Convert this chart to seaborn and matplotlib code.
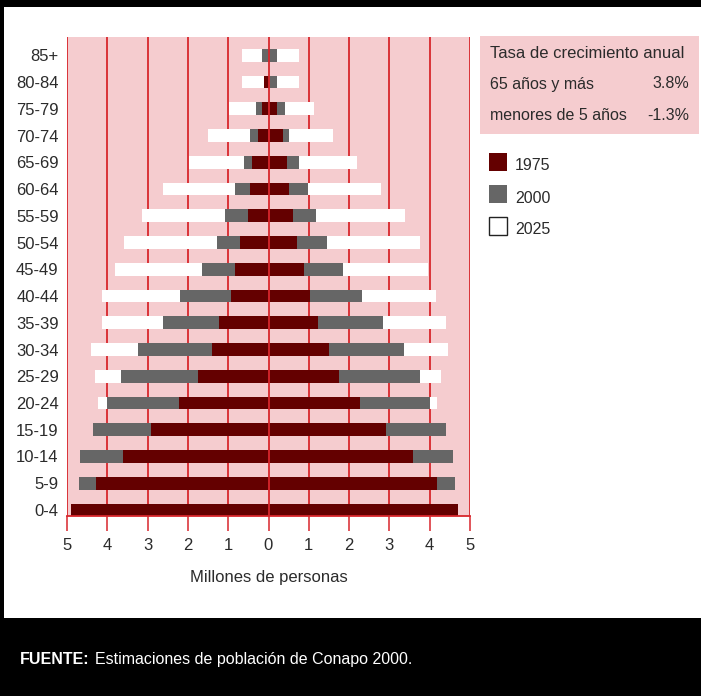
import numpy as np
import pandas as pd
import matplotlib
matplotlib.use("Agg")
import matplotlib.pyplot as plt
from matplotlib.patches import Rectangle
import seaborn as sns

# ---------------------------
# Datos (millones de personas)
# ---------------------------

grupos = ["85+", "80-84", "75-79", "70-74", "65-69", "60-64", "55-59", "50-54", "45-49",
          "40-44", "35-39", "30-34", "25-29", "20-24", "15-19", "10-14", "5-9", "0-4"]

# izquierda / derecha de la pirámide
izq_1975 = [0.0, 0.12, 0.17, 0.25, 0.42, 0.45, 0.50, 0.70, 0.82,
            0.92, 1.22, 1.39, 1.76, 2.21, 2.91, 3.60, 4.27, 4.89]
der_1975 = [0.0, 0.02, 0.22, 0.35, 0.45, 0.50, 0.60, 0.70, 0.87,
            1.04, 1.22, 1.51, 1.76, 2.28, 2.91, 3.58, 4.17, 4.69]

izq_2000 = [0.15, 0.11, 0.32, 0.45, 0.60, 0.82, 1.07, 1.29, 1.66,
            2.19, 2.63, 3.23, 3.65, 4.00, 4.35, 4.67, 4.69, 4.60]
der_2000 = [0.20, 0.22, 0.42, 0.52, 0.75, 0.97, 1.17, 1.44, 1.84,
            2.31, 2.83, 3.35, 3.77, 4.00, 4.40, 4.59, 4.62, 4.45]

izq_2025 = [0.65, 0.65, 0.99, 1.49, 1.98, 2.63, 3.15, 3.58, 3.82,
            4.12, 4.12, 4.40, 4.30, 4.22, 4.25, 4.10, 4.00, 3.80]
der_2025 = [0.75, 0.75, 1.12, 1.59, 2.19, 2.78, 3.38, 3.77, 3.97,
            4.15, 4.40, 4.45, 4.27, 4.17, 4.30, 4.10, 4.00, 3.70]

anios = ["1975", "2000", "2025"]
colores = {"1975": "#640000", "2000": "#666666", "2025": "#FFFFFF"}

tasa_titulo = "Tasa de crecimiento anual"
tasa_filas = [("65 años y más", "3.8%"), ("menores de 5 años", "-1.3%")]

# ---------------------------
# Estilo
# ---------------------------

sns.set_theme(style="white")
plt.rcParams['font.family'] = ['Liberation Sans', 'DejaVu Sans']

ROSA = "#F5CCCF"
ROJO = "#D8262C"
TEXTO = "#2B2B2B"

W, H = 701, 696
fig = plt.figure(figsize=(W / 100, H / 100), dpi=100)


def fx(x):
    return x / W


def fy(y):
    return 1 - y / H


ax = fig.add_axes([fx(67), fy(516), fx(470) - fx(67), fy(37) - fy(516)])
ax.set_facecolor(ROSA)

datos = {
    "1975": (izq_1975, der_1975),
    "2000": (izq_2000, der_2000),
    "2025": (izq_2025, der_2025),
}

# dibujar 2025 al fondo, luego 2000, luego 1975
for anio in ["2025", "2000", "1975"]:
    izq, der = datos[anio]
    df = pd.DataFrame({
        "grupo": grupos + grupos,
        "valor": [-v for v in izq] + list(der),
        "lado": ["izq"] * len(grupos) + ["der"] * len(grupos),
    })
    sns.barplot(
        data=df, x="valor", y="grupo", hue="lado", order=grupos,
        orient="h", dodge=False, width=0.475, saturation=1,
        palette={"izq": colores[anio], "der": colores[anio]},
        edgecolor="none", linewidth=0, legend=False, ax=ax, zorder=2,
    )

# líneas verticales
for v in range(-5, 6):
    ax.axvline(v, color=ROJO, lw=1.3, zorder=1 if v != 0 else 5)

ax.set_xlim(-5, 5)
ax.set_ylim(17.225, -0.685)
ax.set_xticks(range(-5, 6))
ax.set_xticklabels([str(abs(v)) for v in range(-5, 6)])
ax.set_xlabel("Millones de personas", fontsize=12, color=TEXTO, labelpad=12)
ax.set_ylabel("")

for s in ["top", "left", "right"]:
    ax.spines[s].set_visible(False)
ax.spines["bottom"].set_color(ROJO)
ax.spines["bottom"].set_linewidth(1.3)

ax.tick_params(axis="x", colors=ROJO, direction="out", length=11, width=1.1,
               labelcolor=TEXTO, labelsize=12, pad=5, bottom=True)
ax.tick_params(axis="y", length=0, labelcolor=TEXTO, labelsize=12, pad=6)

# ---------------------------
# Recuadro de tasa de crecimiento
# ---------------------------

fig.patches.append(Rectangle((fx(480), fy(134)), fx(699) - fx(480), fy(36) - fy(134),
                             transform=fig.transFigure, facecolor=ROSA, edgecolor="none"))
fig.text(fx(490), fy(53), tasa_titulo, fontsize=12, color=TEXTO, va="center", ha="left")
for i, (etq, val) in enumerate(tasa_filas):
    yy = 84 + i * 32
    fig.text(fx(490), fy(yy), etq, fontsize=11.5, color=TEXTO, va="center", ha="left")
    fig.text(fx(689), fy(yy), val, fontsize=11.5, color=TEXTO, va="center", ha="right")

# leyenda
for i, anio in enumerate(anios):
    y0 = 153 + i * 32
    fig.patches.append(Rectangle((fx(489), fy(y0 + 18)), fx(18), 18 / H,
                                 transform=fig.transFigure, facecolor=colores[anio],
                                 edgecolor="#222222" if anio == "2025" else "none", lw=1))
    fig.text(fx(515), fy(y0 + 13), anio, fontsize=11.5, color=TEXTO, va="center", ha="left")

# ---------------------------
# Marco negro y fuente
# ---------------------------

fig.patches.append(Rectangle((0, fy(7)), 1, 7 / H, transform=fig.transFigure,
                             facecolor="black", edgecolor="none"))
fig.patches.append(Rectangle((0, 0), 1, fy(618), transform=fig.transFigure,
                             facecolor="black", edgecolor="none"))
fig.patches.append(Rectangle((0, fy(618)), fx(4), (618 - 7) / H, transform=fig.transFigure,
                             facecolor="black", edgecolor="none"))

t_fuente = fig.text(fx(20), fy(664), "FUENTE:", fontsize=11.5, color="white",
                    fontweight="bold", va="baseline", ha="left")
fig.canvas.draw()
bb = t_fuente.get_window_extent()
fig.text(bb.x1 / W + fx(5), fy(664), "Estimaciones de población de Conapo 2000.",
         fontsize=11.5, color="white", va="baseline", ha="left")

fig.savefig("out.png", dpi=100)
